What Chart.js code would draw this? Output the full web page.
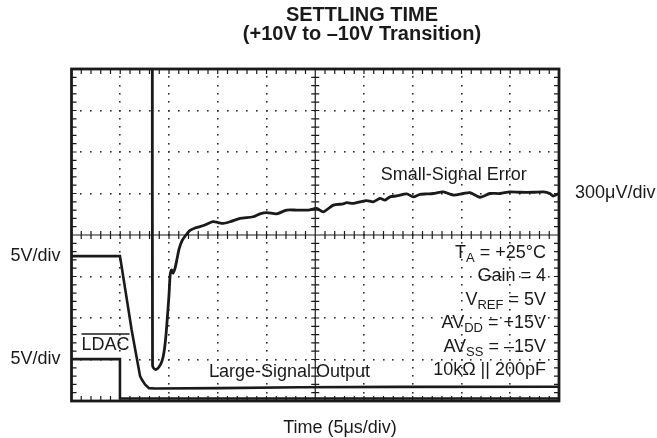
<!DOCTYPE html>
<html>
<head>
<meta charset="utf-8">
<script src="https://cdn.jsdelivr.net/npm/chart.js@4/dist/chart.umd.min.js"></script>
<style>
  html, body { margin: 0; padding: 0; background: #fff; }
  #wrap { width: 657px; height: 438px; }
</style>
</head>
<body>
<div id="wrap"><canvas id="scope" width="657" height="438"></canvas></div>
<script>
// time in µs (5µs/div, 10 div across), level in screen divisions (8 div tall)
const ldacTime = [0, 4.97, 4.97, 50];
const ldacLevel = [1.01, 1.01, 0.06, 0.06];

const outputTime = [0, 4.97, 6.17, 7.03, 7.23, 7.54, 7.95, 8.56, 15.2, 23.4, 33.7, 50];
const outputLevel = [3.49, 3.49, 1.71, 0.6, 0.51, 0.4, 0.31, 0.3, 0.31, 0.33, 0.34, 0.345];

const errorTime = [8.29, 8.31, 8.41, 8.67, 8.97, 9.28, 9.49, 9.69, 9.85, 10.0, 10.12, 10.26,
  10.41, 10.62, 10.82, 11.03, 11.33, 11.74, 12.15, 12.67, 13.18, 13.69, 14.51, 15.03, 15.54,
  16.26, 17.28, 18.62, 19.33, 20.02, 21.05, 22.07, 23.1, 24.29, 25.15, 25.83, 26.86, 27.88,
  28.23, 28.9, 29.59, 30.28, 30.95, 31.64, 32.15, 32.67, 33.35, 34.38, 35.06, 35.74, 36.43,
  37.11, 38.14, 39.16, 40.19, 40.87, 41.9, 42.92, 43.95, 44.97, 46.0, 47.37, 48.39, 49.07,
  49.41, 50];
const errorLevel = [9, 0.87, 0.795, 0.76, 0.82, 0.96, 1.18, 1.59, 2.07, 2.55, 3.04, 3.16,
  3.08, 3.2, 3.42, 3.66, 3.86, 4.0, 4.11, 4.17, 4.2, 4.24, 4.32, 4.3, 4.28,
  4.32, 4.4, 4.44, 4.51, 4.54, 4.51, 4.6, 4.6, 4.6, 4.64, 4.56, 4.72, 4.75,
  4.78, 4.76, 4.8, 4.83, 4.8, 4.88, 4.84, 4.92, 4.94, 4.99, 4.92, 4.98, 4.99,
  5.0, 5.04, 4.96, 5.0, 5.02, 4.91, 5.0, 5.0, 5.04, 5.03, 5.03, 5.04, 5.0,
  4.94, 5.0];

// test conditions: [main, subscript, rest]
const conditions = [
  ["T", "A", " = +25°C"],
  ["Gain = 4", "", ""],
  ["V", "REF", " = 5V"],
  ["AV", "DD", " = +15V"],
  ["AV", "SS", " = \u201315V"],
  ["10k\u03A9 || 200pF", "", ""]
];

const FONT = '"Liberation Sans", Arial, Helvetica, sans-serif';
const INK = "#1a1a1a";

function toPoints(xs, ys) {
  return xs.map((x, i) => ({ x: x, y: ys[i] }));
}

// scope graticule: dotted divisions, centre cross with ticks, framed edge ticks
const graticule = {
  id: "graticule",
  beforeDatasetsDraw(chart) {
    const { ctx, chartArea: a, scales: { x, y } } = chart;
    ctx.save();
    ctx.fillStyle = "#333";
    for (let d = 1; d < 10; d++) {
      if (d === 5) continue;
      const px = x.getPixelForValue(d * 5);
      for (let m = 1; m < 40; m++) {
        ctx.fillRect(Math.round(px) - 1, Math.round(y.getPixelForValue(m * 0.2)) - 1, 1.6, 1.6);
      }
    }
    for (let d = 1; d < 8; d++) {
      if (d === 4) continue;
      const py = y.getPixelForValue(d);
      for (let m = 1; m < 50; m++) {
        ctx.fillRect(Math.round(x.getPixelForValue(m)) - 1, Math.round(py) - 1, 1.6, 1.6);
      }
    }

    ctx.strokeStyle = INK;
    ctx.lineWidth = 1.2;
    const cx = x.getPixelForValue(25);
    const cy = y.getPixelForValue(4);
    ctx.beginPath();
    ctx.moveTo(cx, a.top); ctx.lineTo(cx, a.bottom);
    ctx.moveTo(a.left, cy); ctx.lineTo(a.right, cy);
    for (let m = 1; m < 40; m++) {
      const py = y.getPixelForValue(m * 0.2);
      ctx.moveTo(cx - 4, py); ctx.lineTo(cx + 4, py);
      ctx.moveTo(a.left, py); ctx.lineTo(a.left + 5, py);
      ctx.moveTo(a.right, py); ctx.lineTo(a.right - 5, py);
    }
    for (let m = 1; m < 50; m++) {
      const px = x.getPixelForValue(m);
      ctx.moveTo(px, cy - 4); ctx.lineTo(px, cy + 4);
      ctx.moveTo(px, a.top); ctx.lineTo(px, a.top + 5);
      ctx.moveTo(px, a.bottom); ctx.lineTo(px, a.bottom - 5);
    }
    ctx.stroke();
    ctx.restore();
  },
  afterDatasetsDraw(chart) {
    const { ctx, chartArea: a } = chart;
    ctx.save();
    ctx.strokeStyle = INK;
    ctx.lineWidth = 2.8;
    ctx.strokeRect(a.left, a.top, a.right - a.left, a.bottom - a.top);
    ctx.restore();
  }
};

function subText(ctx, parts, right, cy, size) {
  const [main, sub, rest] = parts;
  const subFont = Math.round(size * 0.72) + "px " + FONT;
  ctx.font = size + "px " + FONT;
  const w1 = ctx.measureText(main).width;
  const w3 = ctx.measureText(rest).width;
  ctx.font = subFont;
  const w2 = ctx.measureText(sub).width;
  let xx = right - (w1 + w2 + w3);
  ctx.textAlign = "left";
  ctx.textBaseline = "middle";
  ctx.font = size + "px " + FONT;
  ctx.fillText(main, xx, cy);
  xx += w1;
  ctx.font = subFont;
  ctx.fillText(sub, xx, cy + 5);
  xx += w2;
  ctx.font = size + "px " + FONT;
  ctx.fillText(rest, xx, cy);
}

const captions = {
  id: "captions",
  afterDraw(chart) {
    const { ctx, chartArea: a, scales: { x, y } } = chart;
    ctx.save();
    ctx.fillStyle = INK;

    ctx.textAlign = "center";
    ctx.textBaseline = "middle";
    ctx.font = "bold 20px " + FONT;
    ctx.fillText("SETTLING TIME", 362, 15);
    ctx.fillText("(+10V to \u201310V Transition)", 362, 34);

    ctx.font = "18px " + FONT;
    ctx.fillText("Time (5\u03BCs/div)", 340, a.bottom + 27);

    ctx.textAlign = "right";
    ctx.fillText("5V/div", a.left - 11, y.getPixelForValue(outputLevel[0]));
    ctx.fillText("5V/div", a.left - 11, y.getPixelForValue(ldacLevel[0]));
    ctx.fillText("Small-Signal Error", x.getPixelForValue(46.7), y.getPixelForValue(5.45));

    ctx.textAlign = "left";
    ctx.fillText("300\u03BCV/div", a.right + 16, y.getPixelForValue(5));
    ctx.fillText("Large-Signal Output", x.getPixelForValue(14.1), y.getPixelForValue(0.7));

    const ldacX = a.left + 10;
    const ldacY = y.getPixelForValue(1.35);
    ctx.fillText("LDAC", ldacX, ldacY);
    const lw = ctx.measureText("LDAC").width;
    ctx.lineWidth = 1.3;
    ctx.strokeStyle = INK;
    ctx.beginPath();
    ctx.moveTo(ldacX, ldacY - 11);
    ctx.lineTo(ldacX + lw, ldacY - 11);
    ctx.stroke();

    conditions.forEach((c, i) => {
      subText(ctx, c, a.right - 13, 253 + i * 23.5, 18);
    });
    ctx.restore();
  }
};

new Chart(document.getElementById("scope"), {
  type: "line",
  data: {
    datasets: [
      { data: toPoints(ldacTime, ldacLevel), borderColor: INK, borderWidth: 2.6, tension: 0 },
      { data: toPoints(outputTime, outputLevel), borderColor: INK, borderWidth: 2.6, tension: 0 },
      { data: toPoints(errorTime, errorLevel), borderColor: INK, borderWidth: 2.8, tension: 0.25 }
    ]
  },
  options: {
    responsive: false,
    animation: false,
    layout: { padding: { left: 71.5, top: 69, right: 98, bottom: 37 } },
    scales: {
      x: { type: "linear", min: 0, max: 50, display: false },
      y: { type: "linear", min: 0, max: 8, display: false }
    },
    elements: { point: { radius: 0 } },
    plugins: { legend: { display: false }, tooltip: { enabled: false } }
  },
  plugins: [graticule, captions]
});
</script>
</body>
</html>
